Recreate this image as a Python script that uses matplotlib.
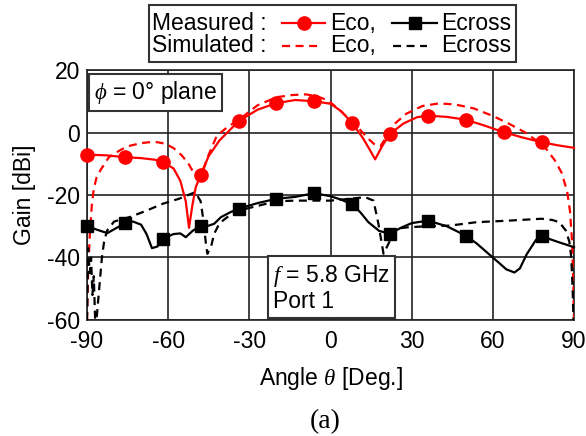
import numpy as np
import matplotlib
matplotlib.use("Agg")
import matplotlib.pyplot as plt
from matplotlib.lines import Line2D
from matplotlib.patches import Rectangle

plt.rcParams['font.family'] = ['Liberation Sans', 'DejaVu Sans']
plt.rcParams['mathtext.fontset'] = 'custom'
plt.rcParams['mathtext.it'] = 'Liberation Serif:italic'
plt.rcParams['mathtext.rm'] = 'Liberation Sans'
plt.rcParams['axes.unicode_minus'] = False

# Measured Eco (co-pol), markers every 14 deg
meas_eco_ang = [-90, -83, -76, -70, -65, -62, -58, -55.5, -53.5, -52.3, -51, -49.8, -48,
                -45, -41, -34, -27, -20, -13, -6, 0, 4, 8, 12, 14.5, 16.5, 19, 22,
                27, 32, 36, 43, 50, 57, 64, 71, 78, 84, 90]
meas_eco_val = [-7.1, -7.3, -7.9, -8.2, -8.7, -9.5, -11.5, -15.5, -22, -30.5, -23, -17.5, -13.5,
                -7.5, -2.5, 3.6, 7.3, 9.4, 10.4, 10.0, 9.2, 6.8, 3.0, -1.8, -5.5, -8.6, -4.5, -0.4,
                2.9, 4.9, 5.4, 5.0, 4.1, 2.2, 0.1, -1.6, -3.1, -4.1, -4.9]

# Measured Ecross
meas_x_ang = [-90, -86, -82.5, -79, -76, -73, -70, -68, -66, -64, -62, -58, -55.5, -53.5,
              -51, -48, -45, -43, -40.5, -37, -34, -27, -20, -13, -6, 0, 4, 8, 11, 14,
              18, 22, 26, 30, 36, 43, 50, 54, 58, 62, 65, 68, 70, 72.5, 76, 78, 84, 90]
meas_x_val = [-30, -31.2, -32.2, -30.5, -29, -28.5, -29.5, -32.5, -37, -36.5, -34, -32.5, -32.3, -33.5,
              -31.5, -29.8, -29.8, -29.2, -27.1, -25.5, -24.4, -22.6, -21.2, -20.6, -19.4, -20.4, -21.5, -23, -25.5, -28.7,
              -31.5, -32.4, -30.5, -29, -28.2, -30, -33, -35.5, -38.5, -41.5, -43.8, -44.8, -43.5, -39, -34.3, -33.2, -35, -36.7]

marker_ang = [-90, -76, -62, -48, -34, -20, -6, 8, 22, 36, 50, 64, 78]

# Simulated Eco
sim_eco_ang = [-90, -89.6, -89, -88.2, -87.5, -86.5, -85, -82, -80, -77, -74, -70, -67, -64,
               -61, -58, -55, -52.5, -50.5, -49, -47, -45, -42, -38, -34, -27, -20, -14, -9,
               -5, -1, 3, 7, 11, 14, 16.5, 18.5, 21, 24, 28, 34, 40, 46, 53, 60, 66, 72,
               76, 80, 83, 85.5, 87.5, 88.5, 89.3, 89.8, 90]
sim_eco_val = [-60, -45, -33, -23, -18, -14.5, -12, -8, -6.8, -5.3, -4.2, -3.4, -3.1, -3.1,
               -3.6, -5, -7.3, -10, -13, -14.5, -12, -7, -1, 1.8, 4, 8.7, 11.3, 12.0, 12.2,
               11.6, 10.3, 7.5, 4.2, 0.8, -2, -4, -4.3, -1, 3, 6, 8.5, 9.3, 9, 7.7, 5.3, 2.8, 0,
               -2.5, -5.5, -9, -13, -19, -25, -35, -50, -60]

# Simulated Ecross
sim_x_ang = [-90, -89.6, -89, -88.5, -88, -87.5, -87, -86.5, -86, -85.3, -84.5, -83.7, -82.6,
             -80, -74, -68, -62, -56, -50, -48, -47, -46, -45.5, -44, -43, -41, -38, -34,
             -27, -20, -13, -6, 0, 6, 12.8, 15.9, 17.7, 19.6, 22, 24, 29, 36, 44, 54, 66,
             78, 82, 84.6, 87, 88.3, 89, 89.5, 89.8]
sim_x_val = [-60, -37, -45, -40, -52, -46, -60, -60, -55, -48, -40, -35, -31.4,
             -28.5, -27, -25, -22.8, -21.2, -19.1, -22, -28, -36, -38.8, -36, -32.4, -29, -27, -25,
             -23.5, -22, -21.8, -21.8, -21.8, -21.3, -20.7, -21.8, -29.2, -38.8, -34.6, -30.8, -30.3, -30, -29.8, -28.7, -28.2,
             -27.6, -28, -28.7, -31.4, -35, -40, -50, -60]

x_ticks = [-90, -60, -30, 0, 30, 60, 90]
y_ticks = [-60, -40, -20, 0, 20]

fig = plt.figure(figsize=(5.86, 4.36), dpi=100)
ax = fig.add_axes([0.1485, 0.2661, 0.8310, 0.5733])

dash = (0, (3.6, 2.5))
red = '#ff0000'
fs = 16.5

mk_eco = [a in marker_ang for a in meas_eco_ang]
mk_x = [a in marker_ang for a in meas_x_ang]

ax.plot(sim_eco_ang, sim_eco_val, color=red, lw=1.6, linestyle=dash, zorder=3)
ax.plot(sim_x_ang, sim_x_val, color='black', lw=1.6, linestyle=dash, zorder=3)
ax.plot(meas_eco_ang, meas_eco_val, color=red, lw=1.6, marker='o', ms=9.5,
        markevery=mk_eco, zorder=4, clip_on=False)
ax.plot(meas_x_ang, meas_x_val, color='black', lw=1.6, marker='s', ms=8,
        markevery=mk_x, zorder=4, clip_on=False)

ax.set_xlim(-90, 90)
ax.set_ylim(-60, 20)
ax.set_xticks(x_ticks)
ax.set_yticks(y_ticks)
ax.tick_params(length=0, labelsize=fs)
ax.tick_params(axis='x', pad=7)
ax.tick_params(axis='y', pad=5)
ax.grid(True, color='#222222', lw=1.2)
for s in ax.spines.values():
    s.set_color('#222222')
    s.set_linewidth(1.2)

ax.set_xlabel(r'Angle $\theta$ [Deg.]', fontsize=fs, labelpad=9)
ax.set_ylabel('Gain [dBi]', fontsize=fs, labelpad=8)

box = dict(boxstyle='square,pad=0.22', fc='white', ec='#333333', lw=1.5)
ax.text(0.14, 0.91, r'$\phi$ = 0° plane', transform=ax.transAxes, fontsize=fs,
        ha='center', va='center', bbox=box, zorder=6)
ax.text(0.502, 0.128, '$f$ = 5.8 GHz\nPort 1', transform=ax.transAxes, fontsize=fs,
        ha='center', va='center', multialignment='left', bbox=box, zorder=6,
        linespacing=1.05)

# custom legend at top
fig.patches.append(Rectangle((0.254, 0.858), 0.627, 0.1305, transform=fig.transFigure,
                             fc='white', ec='#333333', lw=1.5))
r1, r2 = 0.947, 0.8945
fig.text(0.259, r1, 'Measured :', fontsize=fs, va='center')
fig.text(0.259, r2, 'Simulated :', fontsize=fs, va='center')
fig.lines.append(Line2D([0.481, 0.555], [r1, r1], transform=fig.transFigure, color=red, lw=1.6))
fig.lines.append(Line2D([0.518], [r1], transform=fig.transFigure, color=red,
                        marker='o', ms=9.5, lw=0))
fig.lines.append(Line2D([0.669, 0.746], [r1, r1], transform=fig.transFigure, color='black', lw=1.6))
fig.lines.append(Line2D([0.7075], [r1], transform=fig.transFigure, color='black',
                        marker='s', ms=8, lw=0))
fig.lines.append(Line2D([0.481, 0.541], [r2, r2], transform=fig.transFigure, color=red,
                        lw=1.6, linestyle=dash))
fig.lines.append(Line2D([0.671, 0.729], [r2, r2], transform=fig.transFigure, color='black',
                        lw=1.6, linestyle=dash))
fig.text(0.563, r1, 'Eco,', fontsize=fs, va='center')
fig.text(0.563, r2, 'Eco,', fontsize=fs, va='center')
fig.text(0.7525, r1, 'Ecross', fontsize=fs, va='center')
fig.text(0.7525, r2, 'Ecross', fontsize=fs, va='center')

fig.text(0.555, 0.034, '(a)', fontsize=20, family='Liberation Serif', ha='center', va='center')

fig.savefig('out.png', dpi=100)
